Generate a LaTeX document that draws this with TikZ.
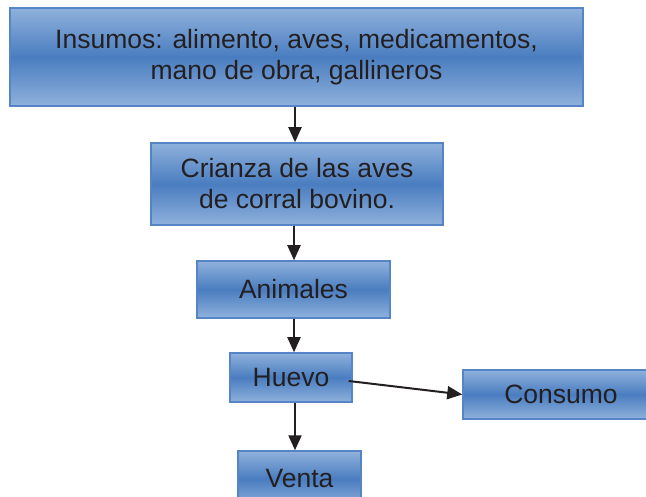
\documentclass[tikz,border=0pt]{standalone}
\usepackage{fontspec}
\setmainfont{Liberation Sans}
\usetikzlibrary{arrows.meta}
\definecolor{bbord}{HTML}{5585C6}
\definecolor{blight}{HTML}{8FB1DC}
\definecolor{bdark}{HTML}{4A7DC0}
\definecolor{txt}{HTML}{231F20}
\begin{document}
\begin{tikzpicture}[x=1pt,y=-1pt,
 box/.style={draw=bbord, line width=1.5pt, top color=blight, bottom color=blight, middle color=bdark,
   inner sep=0pt, font=\fontsize{26.5}{31}\selectfont, text=txt, align=center},
 arr/.style={draw=txt, line width=2pt, -{Triangle[length=15pt,width=13pt]}}]
\clip (0,0) rectangle (646,497);
\fill[white] (0,0) rectangle (646,497);
\node[box, minimum width=573pt, minimum height=98pt] (ins) at (296.5,57)
  {Insumos: alimento, aves, medicamentos,\\mano de obra, gallineros};
\node[box, minimum width=292pt, minimum height=82pt] (cri) at (297,184)
  {Crianza de las aves\\de corral bovino.};
\node[box, minimum width=193pt, minimum height=57pt] (ani) at (293.5,289.5) {Animales};
\node[box, minimum width=122pt, minimum height=49pt] (hue) at (291,377.5) {Huevo};
\node[box, minimum width=196pt, minimum height=49pt] (con) at (561,394.5) {Consumo};
\node[box, minimum width=123pt, minimum height=56pt] (ven) at (299.5,479) {Venta};
\draw[arr] ([xshift=-1.5pt]ins.south) -- ([xshift=-2pt]cri.north);
\draw[arr] ([xshift=-3pt]cri.south) -- ([xshift=0.5pt]ani.north);
\draw[arr] ([xshift=0.5pt]ani.south) -- ([xshift=3pt]hue.north);
\draw[arr] ([xshift=4pt]hue.south) -- ([xshift=-4.5pt]ven.north);
\draw[arr] ([xshift=-4pt,yshift=-3.5pt]hue.east) -- (con.west);
\end{tikzpicture}
\end{document}
